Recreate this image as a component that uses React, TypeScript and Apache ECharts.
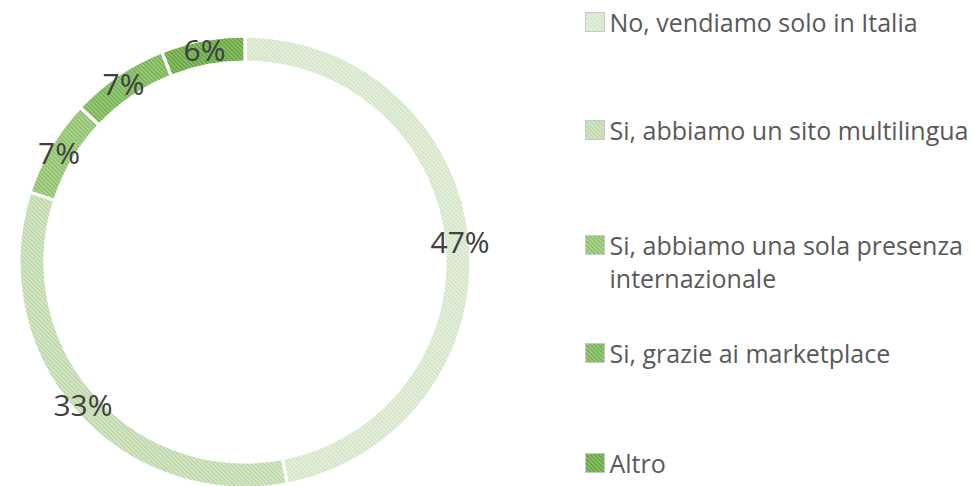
import React, { useEffect, useRef } from "react";
import * as echarts from "echarts";

const categories = [
  "No, vendiamo solo in Italia",
  "Si, abbiamo un sito multilingua",
  "Si, abbiamo una sola presenza internazionale",
  "Si, grazie ai marketplace",
  "Altro",
];
const legendLabels = [
  "No, vendiamo solo in Italia",
  "Si, abbiamo un sito multilingua",
  "\nSi, abbiamo una sola presenza\ninternazionale",
  "Si, grazie ai marketplace",
  "Altro",
];
const values = [47, 33, 7, 7, 6];

export default function App() {
  const ref = useRef<HTMLDivElement>(null);
  useEffect(() => {
    if (!ref.current) return;
    const fillColors = ["#e4efdb", "#d3e6c4", "#a9d38c", "#95c975", "#86bf62"];
    const hatchColors = ["#cde1bf", "#b6d2a2", "#86b966", "#70aa50", "#60993f"];
    const legendCenters = [17, 125, 240, 348, 458];
    const chart = echarts.init(ref.current, undefined, { renderer: "svg" });
    const font = "'Open Sans', sans-serif";
    const data = categories.map((name, i) => ({
      name,
      value: values[i],
      itemStyle: {
        color: fillColors[i],
        decal: {
          symbol: "rect",
          symbolSize: 1,
          dashArrayX: [1, 0],
          dashArrayY: [1, 2],
          rotation: Math.PI / 4,
          color: hatchColors[i],
        },
      },
    }));
    const legends = categories.map((name, i) => {
      const twoLine = i === 2;
      const lh = 33;
      return {
        data: [name],
        left: 580,
        top: twoLine ? legendCenters[i] - lh * 1.5 : legendCenters[i] - lh / 2,
        orient: "vertical",
        itemWidth: 19,
        itemHeight: 19,
        icon: "rect",
        selectedMode: false,
        itemStyle: { borderColor: "#c8c8c8", borderWidth: 1 },
        formatter: () => legendLabels[i],
        textStyle: {
          fontFamily: font,
          fontSize: 25,
          color: "#595959",
          lineHeight: lh,
        },
      };
    });
    chart.setOption({
      animation: false,
      backgroundColor: "#ffffff",
      aria: { enabled: false },
      legend: legends,
      series: [
        {
          type: "pie",
          center: [245, 262],
          radius: [200, 226],
          startAngle: 90,
          clockwise: true,
          silent: true,
          data: [{ value: 1, name: "__outline" }],
          itemStyle: {
            color: "rgba(0,0,0,0)",
            borderColor: "#cfcfcf",
            borderWidth: 1.5,
            borderType: "dashed",
          },
          label: { show: false },
          labelLine: { show: false },
        },
        {
          type: "pie",
          center: [245, 262],
          radius: [200, 226],
          startAngle: 90,
          clockwise: true,
          avoidLabelOverlap: false,
          data,
          itemStyle: { borderColor: "#ffffff", borderWidth: 3 },
          label: {
            show: true,
            position: "inside",
            formatter: "{c}%",
            fontFamily: font,
            fontSize: 30,
            color: "#404040",
          },
          labelLine: { show: false },
          emphasis: { disabled: true },
        },
      ],
    });
    return () => chart.dispose();
  }, []);
  return (
    <div
      ref={ref}
      style={{ position: "absolute", left: 0, top: 0, width: 973, height: 486 }}
    />
  );
}
